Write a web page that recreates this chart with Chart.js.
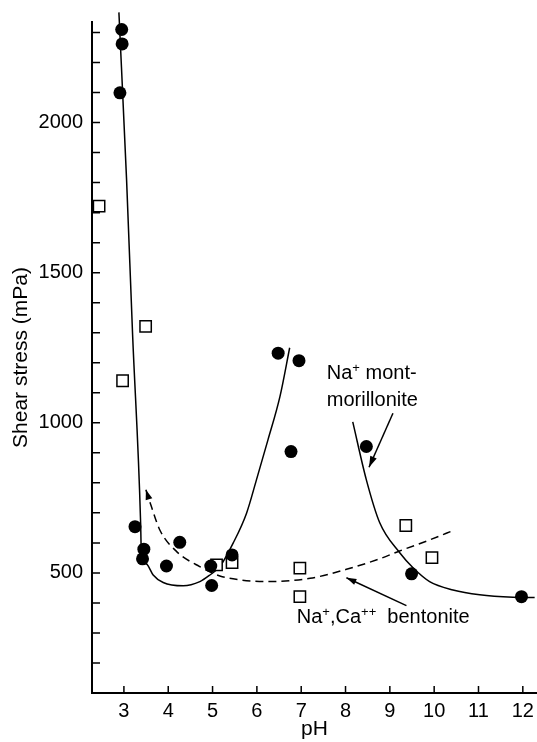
<!DOCTYPE html>
<html>
<head>
<meta charset="utf-8">
<title>Shear stress vs pH</title>
<script src="https://cdn.jsdelivr.net/npm/chart.js@4.4.0/dist/chart.umd.min.js"></script>
<style>
    html, body { margin: 0; padding: 0; background: #fff; }
</style>
</head>
<body>
<canvas id="shearChart" width="537" height="742"></canvas>
<script>
const FONT = '"Liberation Sans", Arial, Helvetica, sans-serif';

// Measured points: Na+ montmorillonite (filled circles)
const montPH = [2.95, 2.96, 2.91, 3.25, 3.45, 3.42, 3.96, 4.26, 4.96, 4.98, 5.44, 6.48, 6.95, 6.77, 8.47, 9.49, 11.97];
const montStress = [2310, 2262, 2099, 654, 579, 547, 523, 602, 523, 458, 560, 1232, 1207, 904, 921, 497, 421];

// Measured points: Na+,Ca++ bentonite (open squares)
const bentPH = [2.44, 2.97, 3.49, 5.09, 5.44, 6.97, 6.97, 9.36, 9.95];
const bentStress = [1722, 1140, 1321, 527, 534, 516, 421, 658, 551];

// Hand drawn curves
const lowCurvePH = [2.887, 3.06, 3.196, 3.377, 3.39, 3.42, 3.525, 3.66, 3.886, 4.337, 4.714, 4.94, 5.165, 5.464, 5.767, 5.99, 6.25, 6.52, 6.74];
const lowCurveStress = [2367, 1810, 1293, 667, 580, 545, 528, 493, 468, 457, 471, 493, 521, 599, 699, 810, 943, 1087, 1250];

const highCurvePH = [8.163, 8.47, 8.772, 9.223, 9.523, 9.897, 10.425, 11.027, 11.78, 12.267];
const highCurveStress = [1003, 810, 667, 567, 517, 471, 443, 427, 419, 418];

const bentCurvePH = [3.496, 3.62, 3.81, 4.19, 4.71, 5.165, 5.615, 6.22, 7.2, 8.02, 8.77, 9.22, 9.9, 10.46];
const bentCurveStress = [777, 721, 643, 571, 521, 490, 477, 471, 482, 512, 547, 573, 610, 643];

// Axis ticks
const xTicks = [3, 4, 5, 6, 7, 8, 9, 10, 11, 12];
const yTicks = [200, 300, 400, 500, 600, 700, 800, 900, 1000, 1100, 1200, 1300, 1400, 1500, 1600, 1700, 1800, 1900, 2000, 2100, 2200, 2300];
const yLabels = [500, 1000, 1500, 2000];

function toXY(xs, ys) {
    return xs.map((v, i) => ({ x: v, y: ys[i] }));
}

// Ticks point into the plot, so draw them by hand
const inwardTicks = {
    id: "inwardTicks",
    afterDraw(chart) {
        const ctx = chart.ctx;
        const area = chart.chartArea;
        const xs = chart.scales.x;
        const ys = chart.scales.y;
        ctx.save();
        ctx.strokeStyle = "#000";
        ctx.lineWidth = 1.5;
        ctx.beginPath();
        xTicks.forEach((v) => {
            const px = xs.getPixelForValue(v);
            ctx.moveTo(px, area.bottom);
            ctx.lineTo(px, area.bottom - 7);
        });
        yTicks.forEach((v) => {
            const py = ys.getPixelForValue(v);
            ctx.moveTo(area.left, py);
            ctx.lineTo(area.left + 8, py);
        });
        ctx.stroke();
        ctx.restore();
    },
};

function arrowHead(ctx, fromX, fromY, tipX, tipY, len, half) {
    const a = Math.atan2(tipY - fromY, tipX - fromX);
    ctx.beginPath();
    ctx.moveTo(tipX, tipY);
    ctx.lineTo(tipX - len * Math.cos(a) + half * Math.sin(a), tipY - len * Math.sin(a) - half * Math.cos(a));
    ctx.lineTo(tipX - len * Math.cos(a) - half * Math.sin(a), tipY - len * Math.sin(a) + half * Math.cos(a));
    ctx.closePath();
    ctx.fill();
}

// Text with small raised "+" signs
function richText(ctx, x, y, parts) {
    let cx = x;
    parts.forEach(([txt, sup]) => {
        ctx.font = sup ? "13px " + FONT : "20px " + FONT;
        ctx.fillText(txt, cx, sup ? y - 7 : y);
        cx += ctx.measureText(txt).width;
    });
}

const annotations = {
    id: "annotations",
    afterDatasetsDraw(chart) {
        const ctx = chart.ctx;
        const xs = chart.scales.x;
        const ys = chart.scales.y;
        const px = (v) => xs.getPixelForValue(v);
        const py = (v) => ys.getPixelForValue(v);
        ctx.save();
        ctx.fillStyle = "#000";
        ctx.strokeStyle = "#000";
        ctx.lineWidth = 1.5;
        ctx.textBaseline = "alphabetic";
        ctx.textAlign = "left";

        richText(ctx, px(7.577), py(1147), [["Na", false], ["+", true], [" mont-", false]]);
        richText(ctx, px(7.577), py(1057), [["morillonite", false]]);
        richText(ctx, px(6.9), py(333), [["Na", false], ["+", true], [",Ca", false], ["++", true], ["  bentonite", false]]);

        // arrow to the montmorillonite curve
        ctx.beginPath();
        ctx.moveTo(px(9.07), py(1032));
        ctx.lineTo(px(8.53), py(852));
        ctx.stroke();
        arrowHead(ctx, px(9.07), py(1032), px(8.53), py(852), 11, 3.5);

        // arrow to the bentonite curve
        ctx.beginPath();
        ctx.moveTo(px(9.374), py(391));
        ctx.lineTo(px(8.02), py(484));
        ctx.stroke();
        arrowHead(ctx, px(9.374), py(391), px(8.02), py(484), 10, 3.2);

        // head at the start of the dashed curve
        arrowHead(ctx, px(bentCurvePH[1]), py(bentCurveStress[1]), px(bentCurvePH[0]), py(bentCurveStress[0]), 10, 3.5);
        ctx.restore();
    },
};

const ctx = document.getElementById("shearChart").getContext("2d");

new Chart(ctx, {
    type: "scatter",
    data: {
        datasets: [
            {
                label: "Na+ montmorillonite",
                data: toXY(montPH, montStress),
                pointStyle: "circle",
                pointRadius: 6.5,
                backgroundColor: "#000",
                borderWidth: 0,
                order: 1,
            },
            {
                label: "Na+,Ca++ bentonite",
                data: toXY(bentPH, bentStress),
                pointStyle: "rect",
                pointRadius: 8,
                backgroundColor: "#fff",
                borderColor: "#000",
                borderWidth: 1.5,
                order: 2,
            },
            {
                type: "line",
                data: toXY(lowCurvePH, lowCurveStress),
                borderColor: "#000",
                borderWidth: 1.5,
                pointRadius: 0,
                cubicInterpolationMode: "monotone",
                clip: false,
                order: 3,
            },
            {
                type: "line",
                data: toXY(highCurvePH, highCurveStress),
                borderColor: "#000",
                borderWidth: 1.5,
                pointRadius: 0,
                cubicInterpolationMode: "monotone",
                order: 3,
            },
            {
                type: "line",
                data: toXY(bentCurvePH, bentCurveStress),
                borderColor: "#000",
                borderWidth: 1.5,
                borderDash: [8, 5],
                pointRadius: 0,
                cubicInterpolationMode: "monotone",
                order: 3,
            },
        ],
    },
    options: {
        responsive: false,
        animation: false,
        devicePixelRatio: 1,
        layout: { autoPadding: false, padding: { top: 22, left: 0, right: 0, bottom: 0 } },
        plugins: {
            legend: { display: false },
            tooltip: { enabled: false },
        },
        scales: {
            x: {
                type: "linear",
                position: "bottom",
                min: 2.28,
                max: 12.32,
                afterBuildTicks: (s) => {
                    s.ticks = xTicks.map((v) => ({ value: v }));
                },
                afterFit: (s) => {
                    s.height = 49;
                    s.paddingLeft = 0;
                    s.paddingRight = 0;
                },
                grid: { display: false, drawTicks: false },
                border: { display: true, color: "#000", width: 2 },
                ticks: {
                    color: "#000",
                    font: { family: FONT, size: 20 },
                    padding: 6,
                    autoSkip: false,
                    maxRotation: 0,
                },
                title: {
                    display: true,
                    text: "pH",
                    color: "#000",
                    font: { family: FONT, size: 21 },
                    padding: 0,
                },
            },
            y: {
                type: "linear",
                min: 100,
                max: 2335,
                afterBuildTicks: (s) => {
                    s.ticks = yTicks.map((v) => ({ value: v }));
                },
                afterFit: (s) => {
                    s.width = 92;
                    s.paddingTop = 0;
                    s.paddingBottom = 0;
                },
                grid: { display: false, drawTicks: false },
                border: { display: true, color: "#000", width: 2 },
                ticks: {
                    color: "#000",
                    font: { family: FONT, size: 20 },
                    padding: 9,
                    autoSkip: false,
                    callback: (v) => (yLabels.includes(v) ? String(v) : ""),
                },
                title: {
                    display: true,
                    text: "Shear stress (mPa)",
                    color: "#000",
                    font: { family: FONT, size: 21 },
                    padding: { top: 9, bottom: 0 },
                },
            },
        },
    },
    plugins: [inwardTicks, annotations],
});
</script>
</body>
</html>
